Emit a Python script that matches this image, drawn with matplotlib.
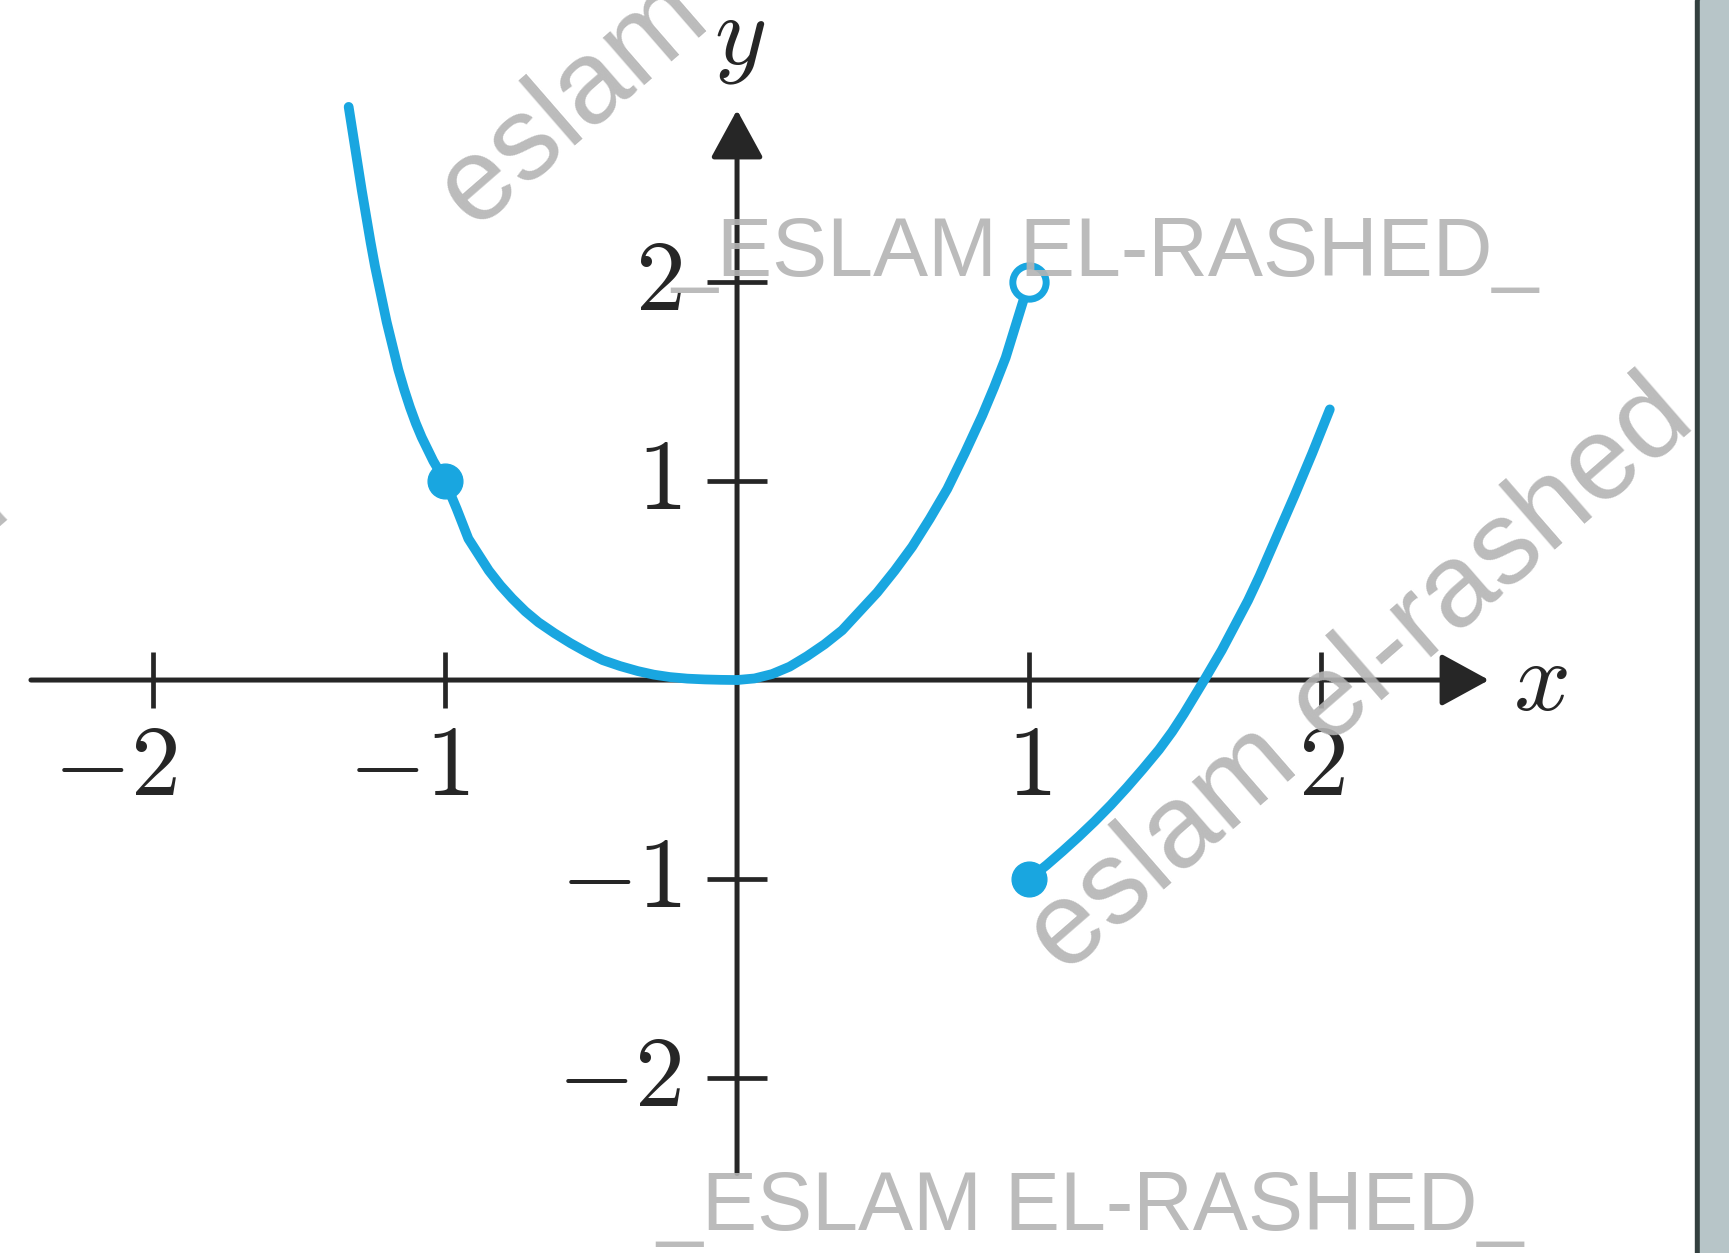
import matplotlib
matplotlib.use('Agg')
import matplotlib.pyplot as plt
from matplotlib.patches import Rectangle

plt.rcParams['mathtext.fontset'] = 'cm'

# piece on the left, down to the origin (closed dot at x = -1)
left_x = [-1.33, -1.315, -1.30, -1.285, -1.27, -1.255, -1.24, -1.22, -1.20, -1.18,
          -1.16, -1.14, -1.12, -1.10, -1.08, -1.06, -1.04, -1.02, -1.00,
          -0.98, -0.96, -0.94, -0.92, -0.885, -0.85, -0.81, -0.77, -0.725, -0.68,
          -0.625, -0.57, -0.515, -0.46, -0.40, -0.34, -0.285, -0.23, -0.17, -0.11,
          -0.055, 0.00]
left_y = [2.88, 2.74, 2.60, 2.46, 2.33, 2.20, 2.08, 1.94, 1.80, 1.68,
          1.56, 1.46, 1.37, 1.29, 1.22, 1.16, 1.10, 1.05, 1.00,
          0.93, 0.86, 0.785, 0.71, 0.63, 0.55, 0.475, 0.41, 0.345, 0.29,
          0.235, 0.185, 0.14, 0.10, 0.07, 0.045, 0.027, 0.015, 0.007, 0.003,
          0.001, 0.00]

# middle piece, origin up to the open circle at (1, 2)
mid_x = [0.00, 0.06, 0.12, 0.18, 0.24, 0.30, 0.36, 0.42, 0.48, 0.54,
         0.60, 0.66, 0.72, 0.78, 0.84, 0.88, 0.92, 0.96, 1.00]
mid_y = [0.00, 0.008, 0.03, 0.067, 0.12, 0.18, 0.25, 0.345, 0.44, 0.55,
         0.67, 0.81, 0.96, 1.14, 1.33, 1.47, 1.62, 1.81, 2.00]

# right piece, from the closed dot at (1, -1)
right_x = [1.00, 1.06, 1.115, 1.17, 1.225, 1.28, 1.335, 1.39, 1.445, 1.49,
           1.53, 1.565, 1.60, 1.63, 1.66, 1.705, 1.75, 1.79, 1.83, 1.87,
           1.91, 1.94, 1.97, 2.00, 2.03]
right_y = [-1.00, -0.93, -0.86, -0.787, -0.71, -0.628, -0.54, -0.447, -0.35, -0.26,
           -0.17, -0.085, 0.00, 0.075, 0.15, 0.275, 0.40, 0.525, 0.66, 0.795,
           0.93, 1.035, 1.14, 1.25, 1.36]

closed_x = [-1, 1]
closed_y = [1, -1]
open_x = [1]
open_y = [2]

x_ticks = [-2, -1, 1, 2]
y_ticks = [-2, -1, 1, 2]

blue = '#19a6e0'
ink = '#262626'
wm_gray = '#b4b4b4'

fig = plt.figure(figsize=(17.29, 12.53), dpi=100)
ax = fig.add_axes([0, 0, 1, 1])
ax.set_xlim(-2.524, 3.397)
ax.set_ylim(-2.879, 3.417)
ax.axis('off')

# axes with arrow heads
arrow = dict(arrowstyle='-|>,head_length=1.5,head_width=0.82', mutation_scale=20,
             lw=3.6, color=ink, shrinkA=0, shrinkB=0)
ax.annotate('', xy=(2.575, 0), xytext=(-2.418, 0), arrowprops=arrow)
ax.annotate('', xy=(0, 2.864), xytext=(0, -2.48), arrowprops=arrow)

for t in x_ticks:
    ax.plot([t, t], [-0.14, 0.14], color=ink, lw=3.4, solid_capstyle='butt')
    if t < 0:
        ax.text(t + 0.085, -0.44, '$%d$' % t, fontsize=72, ha='right', va='center', color=ink)
    else:
        ax.text(t, -0.44, '$%d$' % t, fontsize=72, ha='center', va='center', color=ink)
for t in y_ticks:
    ax.plot([-0.103, 0.103], [t, t], color=ink, lw=3.4, solid_capstyle='butt')
    ax.text(-0.19, t, '$%d$' % t, fontsize=72, ha='right', va='center', color=ink)

ax.text(2.75, -0.01, '$x$', fontsize=72, ha='center', va='center', color=ink)
ax.text(0.01, 3.225, '$y$', fontsize=72, ha='center', va='center', color=ink)

# the function
for xs, ys in [(left_x, left_y), (mid_x, mid_y), (right_x, right_y)]:
    ax.plot(xs, ys, color=blue, lw=7, solid_capstyle='round',
            solid_joinstyle='round', zorder=3)
ax.plot(closed_x, closed_y, 'o', color=blue, ms=25, zorder=4)
ax.plot(open_x, open_y, 'o', mfc='white', mec=blue, mew=5, ms=24, zorder=4)

# watermarks
wm = dict(color=wm_gray, alpha=0.9, family='Liberation Sans', zorder=5)
fig.text(671 / 1729, 1 - 276 / 1253, '_ESLAM EL-RASHED_', fontsize=59.5,
         ha='left', va='baseline', **wm)
fig.text(656 / 1729, 1 - 1230 / 1253, '_ESLAM EL-RASHED_', fontsize=59.5,
         ha='left', va='baseline', **wm)
fig.text(1064 / 1729, 1 - 976 / 1253, 'eslam el-rashed', fontsize=85, rotation=41,
         rotation_mode='anchor', ha='left', va='baseline', **wm)
fig.text(475 / 1729, 1 - 232 / 1253, 'eslam el-rashed', fontsize=85, rotation=41,
         rotation_mode='anchor', ha='left', va='baseline', **wm)
fig.text(14 / 1729, 1 - 515 / 1253, 'eslam el-rashed', fontsize=85, rotation=41,
         rotation_mode='anchor', ha='right', va='baseline', **wm)

# page edge on the right
fig.patches.append(Rectangle((1695 / 1729, 0), 5 / 1729, 1, transform=fig.transFigure,
                             color='#33403f', zorder=6))
fig.patches.append(Rectangle((1700 / 1729, 0), 29 / 1729, 1, transform=fig.transFigure,
                             color='#b7c5c8', zorder=6))

fig.savefig('out.png', dpi=100)
